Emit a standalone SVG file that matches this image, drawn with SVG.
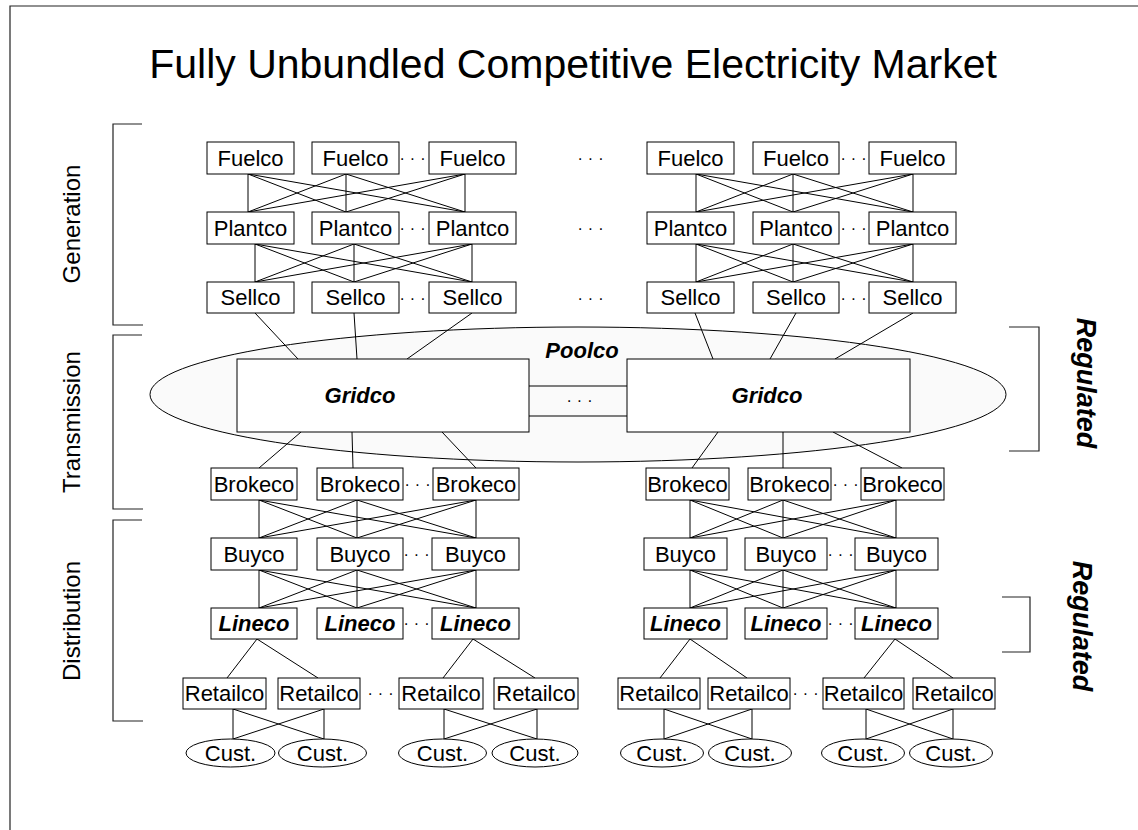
<svg xmlns="http://www.w3.org/2000/svg" width="1138" height="830" viewBox="0 0 1138 830">
  <style>
    .box { fill: #fff; stroke: #000; stroke-width: 1; }
    .ell { fill: #fff; stroke: #000; stroke-width: 1; }
    .t { font-family: "Liberation Sans", Arial, sans-serif; font-size: 22px; text-anchor: middle; fill: #000; }
    .bi { font-weight: bold; font-style: italic; }
    .dots { font-family: "Liberation Sans", Arial, sans-serif; font-size: 16px; letter-spacing: 5px; text-anchor: middle; fill: #000; }
    .lbl { font-family: "Liberation Sans", Arial, sans-serif; font-size: 24px; text-anchor: middle; fill: #000; }
    .reg { font-family: "Liberation Sans", Arial, sans-serif; font-size: 27px; font-weight: bold; font-style: italic; text-anchor: middle; fill: #000; }
    .ln { stroke: #000; stroke-width: 1; fill: none; }
    .br { stroke: #222; stroke-width: 1.2; fill: none; }
  </style>

  <rect x="0" y="0" width="1138" height="830" fill="#fff"/>
  <!-- page frame -->
  <path class="br" d="M10 830 V6 H1138"/>

  <text x="573" y="78" font-family="'Liberation Sans', Arial, sans-serif" font-size="41" text-anchor="middle">Fully Unbundled Competitive Electricity Market</text>

  <!-- side brackets and labels -->
  <g id="generation-bracket">
    <path class="br" d="M142 124 H113 V325 H143"/>
    <text class="lbl" transform="translate(80 224) rotate(-90)">Generation</text>
  </g>
  <g id="transmission-bracket">
    <path class="br" d="M142 335 H113 V509 H143"/>
    <text class="lbl" transform="translate(80 422) rotate(-90)">Transmission</text>
  </g>
  <g id="distribution-bracket">
    <path class="br" d="M142 520 H113 V721 H143"/>
    <text class="lbl" transform="translate(80 621) rotate(-90)">Distribution</text>
  </g>
  <g id="regulated-transmission">
    <path class="br" d="M1009 327 H1039 V451 H1009"/>
    <text class="reg" transform="translate(1077 383) rotate(90)">Regulated</text>
  </g>
  <g id="regulated-distribution">
    <path class="br" d="M1002 597 H1030 V652 H1002"/>
    <text class="reg" transform="translate(1073 626) rotate(90)">Regulated</text>
  </g>

  <!-- Poolco ellipse -->
  <g id="poolco">
    <ellipse cx="578" cy="394.5" rx="428" ry="67.5" fill="#fafafa" stroke="#000" stroke-width="1"/>
    <text class="t bi" x="582" y="358">Poolco</text>
  </g>

  <!-- connectors -->
  <g id="connectors" class="ln">
    <!-- Fuelco to Plantco, left group -->
    <path d="M248 174 L248 212 M248 174 L346 212 M248 174 L465 212 M346 174 L248 212 M346 174 L346 212 M346 174 L465 212 M465 174 L248 212 M465 174 L346 212 M465 174 L465 212"/>
    <!-- Plantco to Sellco, left group -->
    <path d="M255 244 L255 282 M255 244 L354 282 M255 244 L472 282 M354 244 L255 282 M354 244 L354 282 M354 244 L472 282 M472 244 L255 282 M472 244 L354 282 M472 244 L472 282"/>
    <!-- Fuelco to Plantco, right group -->
    <path d="M696 174 L696 212 M696 174 L793 212 M696 174 L913 212 M793 174 L696 212 M793 174 L793 212 M793 174 L913 212 M913 174 L696 212 M913 174 L793 212 M913 174 L913 212"/>
    <!-- Plantco to Sellco, right group -->
    <path d="M696 244 L696 282 M696 244 L793 282 M696 244 L913 282 M793 244 L696 282 M793 244 L793 282 M793 244 L913 282 M913 244 L696 282 M913 244 L793 282 M913 244 L913 282"/>
    <!-- Sellco to Gridco -->
    <path d="M255 313 L298 359 M354 313 L357 359 M472 313 L407 359"/>
    <path d="M695 313 L713 359 M796 313 L770 359 M913 313 L835 359"/>
    <!-- Gridco to Gridco -->
    <path d="M529 386 H627 M529 416 H627"/>
    <!-- Gridco to Brokeco -->
    <path d="M301 432 L259 468 M352 432 L353 468 M442 432 L476 468"/>
    <path d="M718 432 L692 468 M783 432 L783 468 M833 432 L902 468"/>
    <!-- Brokeco to Buyco, left -->
    <path d="M259 500 L259 538 M259 500 L357 538 M259 500 L476 538 M357 500 L259 538 M357 500 L357 538 M357 500 L476 538 M476 500 L259 538 M476 500 L357 538 M476 500 L476 538"/>
    <!-- Buyco to Lineco, left -->
    <path d="M259 570 L259 608 M259 570 L357 608 M259 570 L476 608 M357 570 L259 608 M357 570 L357 608 M357 570 L476 608 M476 570 L259 608 M476 570 L357 608 M476 570 L476 608"/>
    <!-- Brokeco to Buyco, right -->
    <path d="M690 500 L690 538 M690 500 L783 538 M690 500 L896 538 M783 500 L690 538 M783 500 L783 538 M783 500 L896 538 M896 500 L690 538 M896 500 L783 538 M896 500 L896 538"/>
    <!-- Buyco to Lineco, right -->
    <path d="M690 570 L690 608 M690 570 L783 608 M690 570 L896 608 M783 570 L690 608 M783 570 L783 608 M783 570 L896 608 M896 570 L690 608 M896 570 L783 608 M896 570 L896 608"/>
    <!-- Lineco to Retailco -->
    <path d="M257 639 L227 678 M257 639 L318 678 M473 639 L443 678 M473 639 L535 678"/>
    <path d="M690 639 L660 678 M690 639 L747 678 M895 639 L864 678 M895 639 L953 678"/>
    <!-- Retailco to customers -->
    <path d="M233 709 V739 M324 709 V739 M233 709 L324 739 M324 709 L233 739"/>
    <path d="M444 709 V739 M537 709 V739 M444 709 L537 739 M537 709 L444 739"/>
    <path d="M664 709 V739 M752 709 V739 M664 709 L752 739 M752 709 L664 739"/>
    <path d="M866 709 V739 M953 709 V739 M866 709 L953 739 M953 709 L866 739"/>
  </g>

  <!-- Generation: Fuelco -->
  <g id="fuelco-1"><rect class="box" x="207" y="142" width="87" height="32"/><text class="t" x="250.5" y="166">Fuelco</text></g>
  <g id="fuelco-2"><rect class="box" x="312" y="142" width="87" height="32"/><text class="t" x="355.5" y="166">Fuelco</text></g>
  <g id="fuelco-3"><rect class="box" x="429" y="142" width="87" height="32"/><text class="t" x="472.5" y="166">Fuelco</text></g>
  <g id="fuelco-4"><rect class="box" x="647" y="142" width="87" height="32"/><text class="t" x="690.5" y="166">Fuelco</text></g>
  <g id="fuelco-5"><rect class="box" x="753" y="142" width="86" height="32"/><text class="t" x="796" y="166">Fuelco</text></g>
  <g id="fuelco-6"><rect class="box" x="869" y="142" width="87" height="32"/><text class="t" x="912.5" y="166">Fuelco</text></g>

  <!-- Generation: Plantco -->
  <g id="plantco-1"><rect class="box" x="207" y="212" width="87" height="32"/><text class="t" x="250.5" y="236">Plantco</text></g>
  <g id="plantco-2"><rect class="box" x="312" y="212" width="87" height="32"/><text class="t" x="355.5" y="236">Plantco</text></g>
  <g id="plantco-3"><rect class="box" x="429" y="212" width="87" height="32"/><text class="t" x="472.5" y="236">Plantco</text></g>
  <g id="plantco-4"><rect class="box" x="647" y="212" width="87" height="32"/><text class="t" x="690.5" y="236">Plantco</text></g>
  <g id="plantco-5"><rect class="box" x="753" y="212" width="86" height="32"/><text class="t" x="796" y="236">Plantco</text></g>
  <g id="plantco-6"><rect class="box" x="869" y="212" width="87" height="32"/><text class="t" x="912.5" y="236">Plantco</text></g>

  <!-- Generation: Sellco -->
  <g id="sellco-1"><rect class="box" x="207" y="282" width="87" height="31"/><text class="t" x="250.5" y="305">Sellco</text></g>
  <g id="sellco-2"><rect class="box" x="312" y="282" width="87" height="31"/><text class="t" x="355.5" y="305">Sellco</text></g>
  <g id="sellco-3"><rect class="box" x="429" y="282" width="87" height="31"/><text class="t" x="472.5" y="305">Sellco</text></g>
  <g id="sellco-4"><rect class="box" x="647" y="282" width="87" height="31"/><text class="t" x="690.5" y="305">Sellco</text></g>
  <g id="sellco-5"><rect class="box" x="753" y="282" width="86" height="31"/><text class="t" x="796" y="305">Sellco</text></g>
  <g id="sellco-6"><rect class="box" x="869" y="282" width="87" height="31"/><text class="t" x="912.5" y="305">Sellco</text></g>

  <!-- Transmission: Gridco -->
  <g id="gridco-1"><rect class="box" x="237" y="359" width="292" height="73"/><text class="t bi" x="360" y="403">Gridco</text></g>
  <g id="gridco-2"><rect class="box" x="627" y="359" width="283" height="73"/><text class="t bi" x="767" y="403">Gridco</text></g>

  <!-- Brokeco -->
  <g id="brokeco-1"><rect class="box" x="211" y="468" width="86" height="32"/><text class="t" x="254" y="492">Brokeco</text></g>
  <g id="brokeco-2"><rect class="box" x="317" y="468" width="86" height="32"/><text class="t" x="360" y="492">Brokeco</text></g>
  <g id="brokeco-3"><rect class="box" x="433" y="468" width="86" height="32"/><text class="t" x="476" y="492">Brokeco</text></g>
  <g id="brokeco-4"><rect class="box" x="646" y="468" width="83" height="32"/><text class="t" x="687.5" y="492">Brokeco</text></g>
  <g id="brokeco-5"><rect class="box" x="748" y="468" width="83" height="32"/><text class="t" x="789.5" y="492">Brokeco</text></g>
  <g id="brokeco-6"><rect class="box" x="861" y="468" width="83" height="32"/><text class="t" x="902.5" y="492">Brokeco</text></g>

  <!-- Buyco -->
  <g id="buyco-1"><rect class="box" x="211" y="538" width="86" height="32"/><text class="t" x="254" y="562">Buyco</text></g>
  <g id="buyco-2"><rect class="box" x="317" y="538" width="86" height="32"/><text class="t" x="360" y="562">Buyco</text></g>
  <g id="buyco-3"><rect class="box" x="432" y="538" width="87" height="32"/><text class="t" x="475.5" y="562">Buyco</text></g>
  <g id="buyco-4"><rect class="box" x="644" y="538" width="83" height="32"/><text class="t" x="685.5" y="562">Buyco</text></g>
  <g id="buyco-5"><rect class="box" x="745" y="538" width="82" height="32"/><text class="t" x="786" y="562">Buyco</text></g>
  <g id="buyco-6"><rect class="box" x="855" y="538" width="83" height="32"/><text class="t" x="896.5" y="562">Buyco</text></g>

  <!-- Lineco -->
  <g id="lineco-1"><rect class="box" x="211" y="608" width="86" height="31"/><text class="t bi" x="254" y="631">Lineco</text></g>
  <g id="lineco-2"><rect class="box" x="317" y="608" width="86" height="31"/><text class="t bi" x="360" y="631">Lineco</text></g>
  <g id="lineco-3"><rect class="box" x="432" y="608" width="87" height="31"/><text class="t bi" x="475.5" y="631">Lineco</text></g>
  <g id="lineco-4"><rect class="box" x="644" y="608" width="83" height="31"/><text class="t bi" x="685.5" y="631">Lineco</text></g>
  <g id="lineco-5"><rect class="box" x="745" y="608" width="82" height="31"/><text class="t bi" x="786" y="631">Lineco</text></g>
  <g id="lineco-6"><rect class="box" x="855" y="608" width="83" height="31"/><text class="t bi" x="896.5" y="631">Lineco</text></g>

  <!-- Retailco -->
  <g id="retailco-1"><rect class="box" x="183" y="678" width="83" height="31"/><text class="t" x="224.5" y="701">Retailco</text></g>
  <g id="retailco-2"><rect class="box" x="278" y="678" width="82" height="31"/><text class="t" x="319" y="701">Retailco</text></g>
  <g id="retailco-3"><rect class="box" x="399" y="678" width="84" height="31"/><text class="t" x="441" y="701">Retailco</text></g>
  <g id="retailco-4"><rect class="box" x="494" y="678" width="84" height="31"/><text class="t" x="536" y="701">Retailco</text></g>
  <g id="retailco-5"><rect class="box" x="618" y="678" width="82" height="31"/><text class="t" x="659" y="701">Retailco</text></g>
  <g id="retailco-6"><rect class="box" x="708" y="678" width="82" height="31"/><text class="t" x="749" y="701">Retailco</text></g>
  <g id="retailco-7"><rect class="box" x="823" y="678" width="81" height="31"/><text class="t" x="863.5" y="701">Retailco</text></g>
  <g id="retailco-8"><rect class="box" x="913" y="678" width="82" height="31"/><text class="t" x="954" y="701">Retailco</text></g>

  <!-- Customers -->
  <g id="cust-1"><ellipse class="ell" cx="230.5" cy="753" rx="44.5" ry="14"/><text class="t" x="230.5" y="761">Cust.</text></g>
  <g id="cust-2"><ellipse class="ell" cx="322.5" cy="753" rx="44" ry="14"/><text class="t" x="322.5" y="761">Cust.</text></g>
  <g id="cust-3"><ellipse class="ell" cx="442.5" cy="753" rx="44" ry="14"/><text class="t" x="442.5" y="761">Cust.</text></g>
  <g id="cust-4"><ellipse class="ell" cx="535" cy="753" rx="43" ry="14"/><text class="t" x="535" y="761">Cust.</text></g>
  <g id="cust-5"><ellipse class="ell" cx="662" cy="753" rx="41.5" ry="14"/><text class="t" x="662" y="761">Cust.</text></g>
  <g id="cust-6"><ellipse class="ell" cx="750" cy="753" rx="41.5" ry="14"/><text class="t" x="750" y="761">Cust.</text></g>
  <g id="cust-7"><ellipse class="ell" cx="863" cy="753" rx="41.5" ry="14"/><text class="t" x="863" y="761">Cust.</text></g>
  <g id="cust-8"><ellipse class="ell" cx="951" cy="753" rx="41.5" ry="14"/><text class="t" x="951" y="761">Cust.</text></g>

  <!-- ellipsis marks -->
  <g id="ellipses">
    <text class="dots" x="415" y="164">···</text>
    <text class="dots" x="415" y="234">···</text>
    <text class="dots" x="415" y="304">···</text>
    <text class="dots" x="856" y="164">···</text>
    <text class="dots" x="856" y="234">···</text>
    <text class="dots" x="856" y="304">···</text>
    <text class="dots" x="593" y="164">···</text>
    <text class="dots" x="593" y="234">···</text>
    <text class="dots" x="593" y="304">···</text>
    <text class="dots" x="582" y="406">···</text>
    <text class="dots" x="420" y="490">···</text>
    <text class="dots" x="848" y="490">···</text>
    <text class="dots" x="419" y="560">···</text>
    <text class="dots" x="843" y="560">···</text>
    <text class="dots" x="419" y="629">···</text>
    <text class="dots" x="843" y="629">···</text>
    <text class="dots" x="383" y="699">···</text>
    <text class="dots" x="808" y="699">···</text>
  </g>
</svg>
